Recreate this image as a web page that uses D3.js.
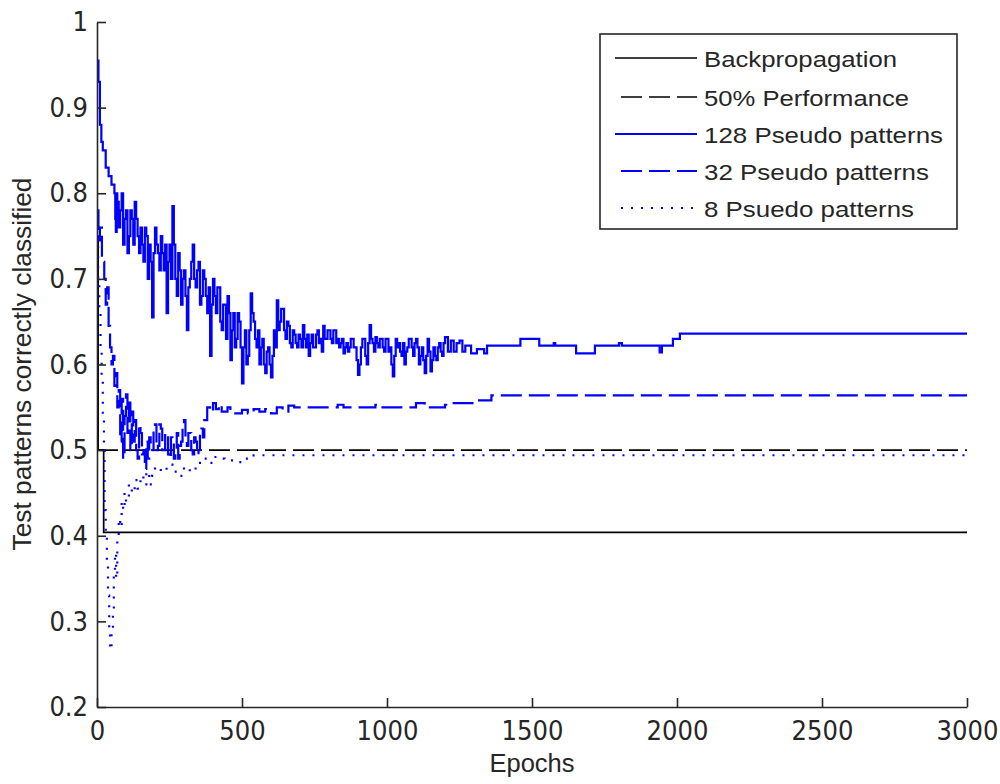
<!DOCTYPE html>
<html>
<head>
<meta charset="utf-8">
<script src="https://cdn.jsdelivr.net/npm/d3@7"></script>
<style>
  body { margin: 0; background: #fff; }
  svg { display: block; }
  .tick text { font-family: "Liberation Sans Narrow", "DejaVu Sans Condensed", "Liberation Sans", Arial, sans-serif; font-size: 27px; fill: #262626; }
</style>
</head>
<body>
<svg id="chart" width="1000" height="784"></svg>
<script>
// Tick values
const xTicks = [0, 500, 1000, 1500, 2000, 2500, 3000];
const yTicks = [0.2, 0.3, 0.4, 0.5, 0.6, 0.7, 0.8, 0.9, 1];

// Series: [epoch, fraction correctly classified]
const backprop = [[0, 0.75], [4, 0.5], [23, 0.404], [3000, 0.404]];
const perf50 = [[0, 0.5], [3000, 0.5]];

const pseudo128 = [
  [0, 0.955], [5, 0.93], [10, 0.88], [15, 0.86], [20, 0.85], [30, 0.83], [40, 0.82], [50, 0.81],
  [60, 0.8], [63, 0.77], [65, 0.755], [68, 0.8], [70, 0.79], [75, 0.76], [80, 0.78], [85, 0.8],
  [90, 0.74], [95, 0.77], [100, 0.78], [105, 0.73], [110, 0.75], [115, 0.78], [120, 0.77],
  [125, 0.74], [130, 0.79], [135, 0.77], [140, 0.75], [145, 0.73], [150, 0.76], [155, 0.74],
  [160, 0.72], [165, 0.76], [170, 0.75], [175, 0.7], [180, 0.74], [185, 0.72], [190, 0.655],
  [195, 0.73], [200, 0.76], [205, 0.74], [210, 0.73], [215, 0.71], [220, 0.75], [225, 0.73],
  [230, 0.71], [235, 0.74], [240, 0.66], [245, 0.72], [250, 0.74], [255, 0.7], [260, 0.785],
  [265, 0.74], [270, 0.7], [275, 0.68], [280, 0.73], [285, 0.71], [290, 0.67], [295, 0.7],
  [300, 0.71], [305, 0.68], [310, 0.64], [315, 0.69], [320, 0.7], [325, 0.72], [330, 0.74],
  [335, 0.7], [340, 0.69], [345, 0.71], [350, 0.72], [355, 0.67], [360, 0.68], [365, 0.71],
  [370, 0.7], [375, 0.68], [380, 0.66], [385, 0.69], [390, 0.61], [395, 0.67], [400, 0.7],
  [405, 0.68], [410, 0.66], [415, 0.69], [420, 0.69], [425, 0.65], [430, 0.64], [435, 0.67],
  [440, 0.67], [445, 0.63], [450, 0.68], [455, 0.66], [460, 0.605], [465, 0.64], [470, 0.66],
  [475, 0.62], [480, 0.63], [485, 0.66], [490, 0.65], [495, 0.62], [500, 0.578], [505, 0.62],
  [510, 0.64], [515, 0.6], [520, 0.61], [525, 0.64], [530, 0.683], [535, 0.66], [540, 0.65],
  [545, 0.63], [550, 0.62], [555, 0.64], [560, 0.6], [565, 0.62], [570, 0.63], [575, 0.6],
  [580, 0.59], [585, 0.615], [590, 0.62], [595, 0.6], [600, 0.585], [605, 0.61], [610, 0.64],
  [615, 0.62], [620, 0.675], [625, 0.64], [630, 0.65], [635, 0.665], [640, 0.665], [645, 0.64],
  [650, 0.63], [655, 0.65], [660, 0.645], [665, 0.625], [670, 0.62], [675, 0.64], [680, 0.635],
  [685, 0.625], [690, 0.62], [695, 0.635], [700, 0.63], [705, 0.62], [710, 0.646], [715, 0.63],
  [720, 0.62], [725, 0.635], [730, 0.61], [735, 0.625], [740, 0.635], [745, 0.62], [750, 0.62],
  [755, 0.635], [760, 0.64], [765, 0.625], [770, 0.63], [775, 0.615], [780, 0.645], [785, 0.63],
  [790, 0.63], [795, 0.64], [800, 0.64], [805, 0.63], [810, 0.625], [815, 0.64], [820, 0.64],
  [825, 0.625], [830, 0.63], [835, 0.62], [840, 0.625], [845, 0.63], [850, 0.613], [855, 0.62],
  [860, 0.625], [865, 0.615], [870, 0.62], [875, 0.63], [880, 0.63], [885, 0.62], [890, 0.62],
  [895, 0.605], [900, 0.588], [905, 0.6], [910, 0.62], [915, 0.63], [920, 0.63], [925, 0.61],
  [930, 0.6], [935, 0.625], [940, 0.646], [945, 0.63], [950, 0.625], [955, 0.615], [960, 0.632],
  [965, 0.625], [970, 0.62], [975, 0.63], [980, 0.63], [985, 0.62], [990, 0.615], [995, 0.63],
  [1000, 0.63], [1005, 0.615], [1010, 0.62], [1015, 0.6], [1020, 0.586], [1025, 0.61],
  [1030, 0.63], [1035, 0.62], [1040, 0.625], [1045, 0.615], [1050, 0.61], [1055, 0.625],
  [1060, 0.6], [1065, 0.615], [1070, 0.62], [1075, 0.63], [1080, 0.63], [1085, 0.62],
  [1090, 0.61], [1095, 0.625], [1100, 0.63], [1105, 0.62], [1110, 0.6], [1115, 0.61],
  [1120, 0.62], [1125, 0.605], [1130, 0.59], [1135, 0.61], [1140, 0.63], [1145, 0.615],
  [1150, 0.592], [1155, 0.605], [1160, 0.62], [1165, 0.61], [1170, 0.605], [1175, 0.62],
  [1180, 0.625], [1185, 0.615], [1190, 0.61], [1195, 0.625], [1200, 0.632], [1210, 0.615],
  [1220, 0.628], [1230, 0.615], [1240, 0.625], [1250, 0.628], [1260, 0.615], [1270, 0.622],
  [1290, 0.613], [1310, 0.618], [1335, 0.613], [1345, 0.622], [1460, 0.63], [1525, 0.622],
  [1575, 0.625], [1580, 0.622], [1652, 0.613], [1717, 0.622], [1800, 0.625], [1810, 0.622],
  [1940, 0.614], [1948, 0.622], [1986, 0.63], [2010, 0.636], [3000, 0.636]
];

const pseudo32 = [
  [0, 0.78], [5, 0.745], [10, 0.76], [17, 0.72], [25, 0.7], [30, 0.67], [35, 0.69], [40, 0.645],
  [45, 0.62], [50, 0.6], [55, 0.61], [60, 0.575], [65, 0.59], [70, 0.55], [75, 0.57], [80, 0.51],
  [85, 0.56], [90, 0.49], [95, 0.54], [100, 0.565], [105, 0.52], [110, 0.56], [115, 0.5],
  [120, 0.545], [125, 0.51], [130, 0.535], [135, 0.5], [140, 0.49], [145, 0.53], [150, 0.52],
  [155, 0.495], [160, 0.5], [165, 0.478], [170, 0.51], [175, 0.49], [180, 0.515], [185, 0.5],
  [190, 0.5], [195, 0.525], [200, 0.53], [205, 0.5], [210, 0.505], [215, 0.53], [220, 0.525],
  [225, 0.5], [230, 0.5], [235, 0.52], [240, 0.52], [245, 0.495], [250, 0.49], [255, 0.515],
  [260, 0.51], [265, 0.49], [270, 0.5], [275, 0.52], [280, 0.49], [285, 0.505], [290, 0.51],
  [295, 0.53], [300, 0.535], [305, 0.51], [310, 0.505], [315, 0.52], [320, 0.52], [325, 0.5],
  [330, 0.495], [335, 0.515], [340, 0.51], [345, 0.495], [350, 0.5], [355, 0.52], [360, 0.525],
  [365, 0.515], [370, 0.535], [380, 0.55], [390, 0.545], [400, 0.555], [410, 0.548], [420, 0.553],
  [430, 0.545], [450, 0.55], [460, 0.543], [500, 0.547], [520, 0.543], [540, 0.548], [560, 0.545],
  [580, 0.548], [600, 0.543], [620, 0.55], [640, 0.545], [660, 0.552], [680, 0.55], [830, 0.553],
  [850, 0.55], [960, 0.553], [980, 0.55], [1100, 0.555], [1130, 0.55], [1200, 0.553],
  [1230, 0.555], [1300, 0.558], [1360, 0.564], [3000, 0.564]
];

const pseudo8 = [
  [0, 0.76], [4, 0.7], [8, 0.66], [12, 0.62], [16, 0.58], [20, 0.54], [24, 0.5], [26, 0.43],
  [30, 0.4], [34, 0.37], [38, 0.33], [42, 0.29], [45, 0.267], [50, 0.29], [55, 0.31], [58, 0.36],
  [62, 0.38], [66, 0.35], [70, 0.4], [75, 0.42], [80, 0.41], [85, 0.44], [90, 0.43], [95, 0.45],
  [100, 0.44], [110, 0.46], [120, 0.45], [130, 0.465], [140, 0.455], [150, 0.47], [160, 0.46],
  [170, 0.475], [180, 0.46], [190, 0.47], [200, 0.48], [220, 0.475], [240, 0.483], [260, 0.475],
  [280, 0.47], [300, 0.48], [320, 0.475], [340, 0.485], [360, 0.49], [380, 0.485], [400, 0.492],
  [420, 0.49], [440, 0.488], [470, 0.486], [500, 0.49], [540, 0.494], [3000, 0.494]
];

const seriesNames = ["Backpropagation", "50% Performance", "128 Pseudo patterns", "32 Pseudo patterns", "8 Psuedo patterns"];

// Plot geometry
const margin = { top: 22, right: 33, bottom: 77, left: 97 };
const width = 1000 - margin.left - margin.right;
const height = 784 - margin.top - margin.bottom;

const svg = d3.select("#chart");
const g = svg.append("g").attr("transform", `translate(${margin.left},${margin.top})`);

const x = d3.scaleLinear().domain([0, 3000]).range([0, width]);
const y = d3.scaleLinear().domain([0.2, 1]).range([height, 0]);

const line = d3.line()
  .x((d) => x(d[0]))
  .y((d) => y(d[1]))
  .curve(d3.curveStepAfter);

// styles for each series, in drawing order
const styles = [
  { data: backprop, color: "#000", dash: null, w: 1.7 },
  { data: perf50, color: "#000", dash: "21,7", w: 1.7 },
  { data: pseudo128, color: "#0000ff", dash: null, w: 2.2 },
  { data: pseudo32, color: "#0000ff", dash: "21,7", w: 2.2 },
  { data: pseudo8, color: "#0000ff", dash: "2,8", w: 2.2 },
];

styles.forEach((s) => {
  g.append("path")
    .datum(s.data)
    .attr("fill", "none")
    .attr("stroke", s.color)
    .attr("stroke-width", s.w)
    .attr("stroke-dasharray", s.dash)
    .attr("d", line);
});

// Axes (ticks point inward like matlab)
const xAxis = g.append("g")
  .attr("transform", `translate(0,${height})`)
  .call(d3.axisBottom(x).tickValues(xTicks).tickSizeInner(-9).tickSizeOuter(0).tickPadding(14).tickFormat(d3.format("d")));

const yAxis = g.append("g")
  .call(d3.axisLeft(y).tickValues(yTicks).tickSizeInner(-9).tickSizeOuter(0).tickPadding(9).tickFormat((d) => d3.format("")(d)));

[xAxis, yAxis].forEach((a) => {
  a.select(".domain").attr("stroke", "#262626").attr("stroke-width", 1.6);
  a.selectAll(".tick line").attr("stroke", "#262626").attr("stroke-width", 1.6);
});
xAxis.selectAll(".tick text").attr("dy", "0.71em");

// Axis labels
svg.append("text")
  .attr("x", margin.left + width / 2)
  .attr("y", 772)
  .attr("text-anchor", "middle")
  .attr("textLength", 85)
  .attr("lengthAdjust", "spacingAndGlyphs")
  .style("font-family", "'Liberation Sans', Arial, sans-serif")
  .style("font-size", "26px")
  .style("fill", "#262626")
  .text("Epochs");

svg.append("text")
  .attr("transform", "translate(31,364) rotate(-90)")
  .attr("text-anchor", "middle")
  .attr("textLength", 373)
  .attr("lengthAdjust", "spacingAndGlyphs")
  .style("font-family", "'Liberation Sans', Arial, sans-serif")
  .style("font-size", "26px")
  .style("fill", "#262626")
  .text("Test patterns correctly classified");

// Legend
const legendRows = [58, 97, 134, 171, 208];
const legendWidths = [193, 205, 239, 225, 210];
const legend = svg.append("g");
legend.append("rect")
  .attr("x", 600).attr("y", 34)
  .attr("width", 357).attr("height", 195)
  .attr("fill", "#fff")
  .attr("stroke", "#262626")
  .attr("stroke-width", 1.6);

styles.forEach((s, i) => {
  legend.append("line")
    .attr("x1", 615).attr("x2", 697)
    .attr("y1", legendRows[i]).attr("y2", legendRows[i])
    .attr("stroke", s.color)
    .attr("stroke-width", s.w)
    .attr("stroke-dasharray", s.dash)
    .attr("stroke-dashoffset", s.dash ? -6 : null);
  legend.append("text")
    .attr("x", 704)
    .attr("y", legendRows[i] + 9)
    .attr("textLength", legendWidths[i])
    .attr("lengthAdjust", "spacingAndGlyphs")
    .style("font-family", "'Liberation Sans', Arial, sans-serif")
    .style("font-size", "22px")
    .style("fill", "#262626")
    .text(seriesNames[i]);
});
</script>
</body>
</html>
